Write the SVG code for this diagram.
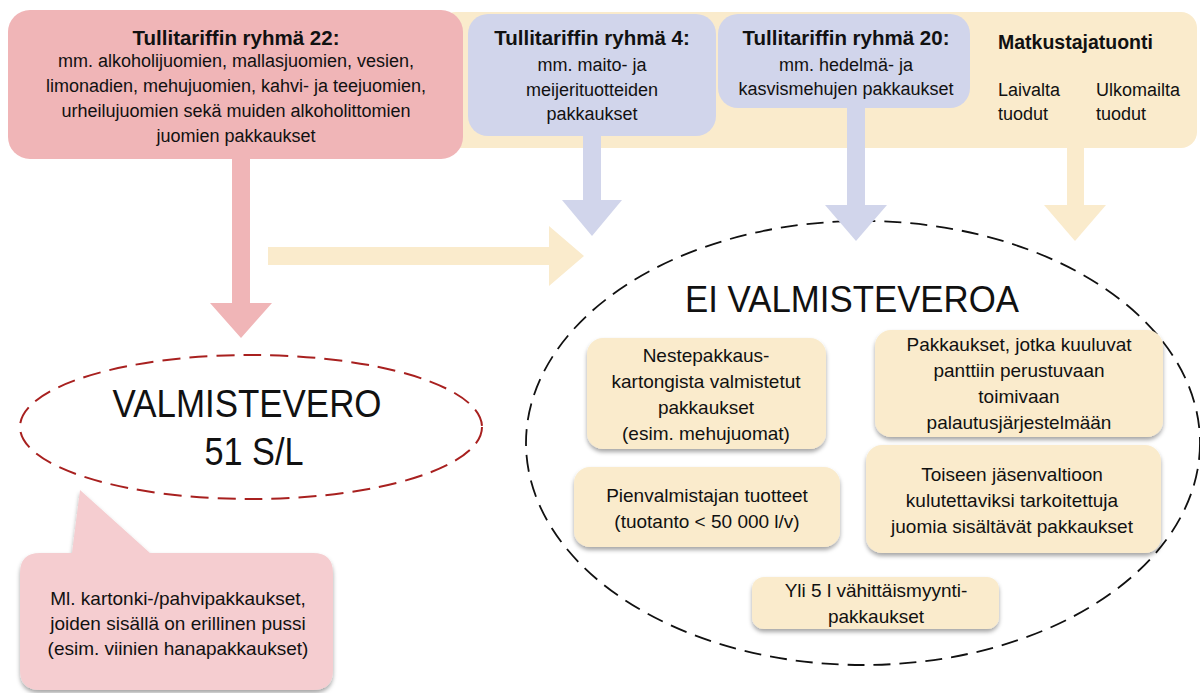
<svg xmlns="http://www.w3.org/2000/svg" width="1200" height="693" viewBox="0 0 1200 693">
<defs>
<style>
text{font-family:"Liberation Sans",Arial,sans-serif;fill:#111;text-anchor:middle}
.t{font-weight:bold;font-size:20.5px}
.b{font-size:18px}
.s{font-size:19px}
.l{text-anchor:start}
.pink{fill:#F0B5B7}
.blue{fill:#D1D5EB}
.yel{fill:#FAEBCC}
.bub{fill:#F5CDD0}
</style>
<filter id="sh" x="-10%" y="-10%" width="120%" height="130%">
<feDropShadow dx="0" dy="3" stdDeviation="2" flood-color="#000" flood-opacity="0.35"/>
</filter>
</defs>
<rect width="1200" height="693" fill="#fff"/>

<g id="band-matkustajatuonti">
<rect class="yel" x="440" y="12" width="757" height="136" rx="16"/>
<text class="t l" x="998" y="49" style="font-size:19.5px">Matkustajatuonti</text>
<text class="b l" x="998" y="96">Laivalta</text>
<text class="b l" x="998" y="120">tuodut</text>
<text class="b l" x="1096" y="96">Ulkomailta</text>
<text class="b l" x="1096" y="120">tuodut</text>
</g>

<g id="node-ryhma22">
<rect class="pink" x="8" y="10" width="455" height="149" rx="22"/>
<text class="t" x="236" y="45">Tullitariffin ryhmä 22:</text>
<text class="b" x="236" y="67">mm. alkoholijuomien, mallasjuomien, vesien,</text>
<text class="b" x="236" y="92">limonadien, mehujuomien, kahvi- ja teejuomien,</text>
<text class="b" x="236" y="117">urheilujuomien sekä muiden alkoholittomien</text>
<text class="b" x="236" y="142">juomien pakkaukset</text>
</g>

<g id="node-ryhma4">
<rect class="blue" x="468" y="14" width="248" height="122" rx="20"/>
<text class="t" x="592" y="45">Tullitariffin ryhmä 4:</text>
<text class="b" x="592" y="71">mm. maito- ja</text>
<text class="b" x="592" y="96">meijerituotteiden</text>
<text class="b" x="592" y="120">pakkaukset</text>
</g>

<g id="node-ryhma20">
<rect class="blue" x="718" y="14" width="252" height="94" rx="20"/>
<text class="t" x="846" y="45">Tullitariffin ryhmä 20:</text>
<text class="b" x="846" y="71">mm. hedelmä- ja</text>
<text class="b" x="846" y="95">kasvismehujen pakkaukset</text>
</g>

<g id="node-valmistevero">
<ellipse cx="251" cy="427" rx="231" ry="72" fill="none" stroke="#A8201F" stroke-width="2" stroke-dasharray="18 9"/>
<text x="247" y="417" style="font-size:38px" textLength="269" lengthAdjust="spacingAndGlyphs">VALMISTEVERO</text>
<text x="254" y="465" style="font-size:38px" textLength="99" lengthAdjust="spacingAndGlyphs">51 S/L</text>
</g>

<g id="node-huomautus" filter="url(#sh)">
<path class="bub" d="M40,553 L72,553 L80,490 L150,553 L313,553 Q333,553 333,573 L333,670 Q333,690 313,690 L40,690 Q20,690 20,670 L20,573 Q20,553 40,553 Z"/>
</g>
<g id="node-huomautus-text">
<text class="s" x="178" y="605">Ml. kartonki-/pahvipakkaukset,</text>
<text class="s" x="178" y="630">joiden sisällä on erillinen pussi</text>
<text class="s" x="178" y="655">(esim. viinien hanapakkaukset)</text>
</g>

<g id="node-ei-valmisteveroa">
<ellipse cx="863" cy="443" rx="337" ry="222" fill="none" stroke="#111" stroke-width="1.8" stroke-dasharray="17 9"/>
<text x="852" y="312" style="font-size:37px" textLength="334" lengthAdjust="spacingAndGlyphs">EI VALMISTEVEROA</text>
</g>

<g id="node-nestepakkaus">
<rect class="yel" x="587" y="338" width="239" height="111" rx="16" filter="url(#sh)"/>
<text class="s" x="706" y="362">Nestepakkaus-</text>
<text class="s" x="706" y="388">kartongista valmistetut</text>
<text class="s" x="706" y="414">pakkaukset</text>
<text class="s" x="706" y="440">(esim. mehujuomat)</text>
</g>

<g id="node-panttijarjestelma">
<rect class="yel" x="875" y="330" width="288" height="107" rx="16" filter="url(#sh)"/>
<text class="s" x="1019" y="351">Pakkaukset, jotka kuuluvat</text>
<text class="s" x="1019" y="377">panttiin perustuvaan</text>
<text class="s" x="1019" y="403">toimivaan</text>
<text class="s" x="1019" y="429">palautusjärjestelmään</text>
</g>

<g id="node-pienvalmistaja">
<rect class="yel" x="574" y="467" width="266" height="80" rx="16" filter="url(#sh)"/>
<text class="s" x="707" y="502">Pienvalmistajan tuotteet</text>
<text class="s" x="707" y="528">(tuotanto &lt; 50 000 l/v)</text>
</g>

<g id="node-jasenvaltio">
<rect class="yel" x="866" y="445" width="295" height="108" rx="16" filter="url(#sh)"/>
<text class="s" x="1012" y="481">Toiseen jäsenvaltioon</text>
<text class="s" x="1012" y="507">kulutettaviksi tarkoitettuja</text>
<text class="s" x="1012" y="533">juomia sisältävät pakkaukset</text>
</g>

<g id="node-yli5l">
<rect class="yel" x="752" y="577" width="247" height="52" rx="12" filter="url(#sh)"/>
<text class="s" x="876" y="597">Yli 5 l vähittäismyynti-</text>
<text class="s" x="876" y="623">pakkaukset</text>
</g>

<g id="connectors">
<polygon class="pink" points="232,158 250,158 250,303 272,303 241,338 210,303 232,303"/>
<polygon class="yel" points="268,247 549,247 549,226 584,256 549,286 549,265 268,265"/>
<polygon class="blue" points="583,135 601,135 601,200 622,200 592,236 562,200 583,200"/>
<polygon class="blue" points="847,107 865,107 865,205 887,205 856,241 825,205 847,205"/>
<polygon class="yel" points="1067,147 1084,147 1084,205 1106,205 1075,241 1044,205 1067,205"/>
</g>
</svg>
